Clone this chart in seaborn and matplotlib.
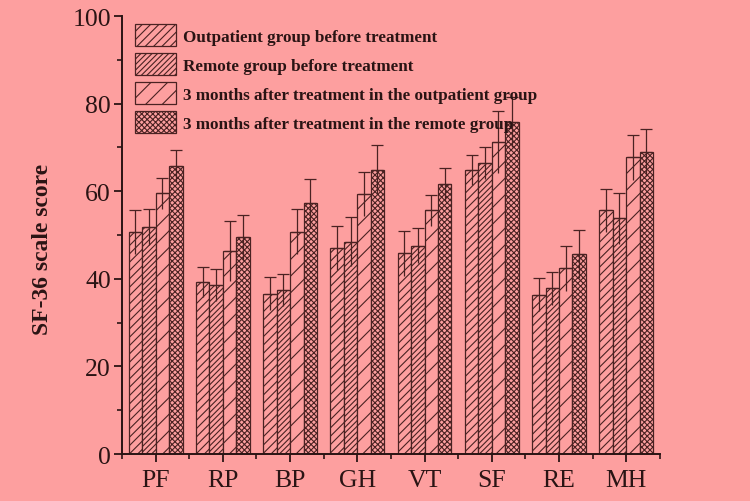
import numpy as np
import pandas as pd
import matplotlib
matplotlib.use("Agg")
import matplotlib.pyplot as plt
import seaborn as sns
from matplotlib.patches import Patch
from matplotlib.ticker import MultipleLocator, FixedLocator

# Data
dimensions = ['PF', 'RP', 'BP', 'GH', 'VT', 'SF', 'RE', 'MH']
groups = ['Outpatient group before treatment',
          'Remote group before treatment',
          '3 months after treatment in the outpatient group',
          '3 months after treatment in the remote group']

outpatient_before = [50.6, 39.3, 36.6, 47.0, 45.8, 64.9, 36.4, 55.6]
remote_before = [51.8, 38.6, 37.4, 48.5, 47.5, 66.4, 37.8, 53.8]
outpatient_after = [59.5, 46.4, 50.8, 59.4, 55.6, 71.3, 42.4, 67.7]
remote_after = [65.8, 49.5, 57.4, 64.9, 61.6, 75.8, 45.6, 68.9]

outpatient_before_sd = [5.0, 3.5, 3.8, 5.1, 5.2, 3.4, 3.8, 4.9]
remote_before_sd = [4.1, 3.6, 3.6, 5.5, 4.0, 3.6, 3.7, 5.8]
outpatient_after_sd = [3.5, 6.9, 5.1, 5.1, 3.6, 7.1, 5.2, 5.1]
remote_after_sd = [3.7, 5.1, 5.5, 5.6, 3.8, 5.6, 5.5, 5.4]

means = [outpatient_before, remote_before, outpatient_after, remote_after]
sds = [outpatient_before_sd, remote_before_sd, outpatient_after_sd, remote_after_sd]

df = pd.DataFrame({
    'dimension': dimensions * 4,
    'group': np.repeat(groups, len(dimensions)),
    'score': np.concatenate(means),
})

bg = '#fd9f9f'
edge = '#4a2222'
ink = '#2a1414'
hatches = ['////', '//////', '//', 'xxxxxx']

sns.set_theme(style="ticks")
plt.rcParams['font.family'] = ['Liberation Serif', 'DejaVu Serif']
plt.rcParams['hatch.linewidth'] = 0.8
plt.rcParams['hatch.color'] = edge

fig = plt.figure(figsize=(7.5, 5.02), dpi=100, facecolor=bg)
ax = fig.add_axes([0.1627, 0.0936, 0.717, 0.8725])
ax.set_facecolor(bg)

sns.barplot(data=df, x='dimension', y='score', hue='group', order=dimensions,
            hue_order=groups, width=0.8, ax=ax, legend=False)

for cont, h, sd in zip(ax.containers, hatches, sds):
    xs = []
    ys = []
    for bar in cont:
        bar.set_facecolor(bg)
        bar.set_edgecolor(edge)
        bar.set_linewidth(0.9)
        bar.set_hatch(h)
        xs.append(bar.get_x() + bar.get_width() / 2)
        ys.append(bar.get_height())
    sd = np.array(sd)
    # upper part with cap, lower part without cap
    ax.errorbar(xs, ys, yerr=[np.zeros_like(sd), sd], fmt='none',
                ecolor=edge, elinewidth=0.9, capsize=4, capthick=0.9)
    ax.errorbar(xs, ys, yerr=[sd, np.zeros_like(sd)], fmt='none',
                ecolor=edge, elinewidth=0.9, capsize=0)

ax.set_xlim(-0.5, 7.5)
ax.set_ylim(0, 100)
ax.yaxis.set_major_locator(MultipleLocator(20))
ax.yaxis.set_minor_locator(MultipleLocator(10))
ax.xaxis.set_minor_locator(FixedLocator(np.arange(-0.5, 8, 1)))

for s in ['top', 'right']:
    ax.spines[s].set_visible(False)
for s in ['left', 'bottom']:
    ax.spines[s].set_color(ink)
    ax.spines[s].set_linewidth(1.4)

ax.tick_params(which='major', direction='out', length=6, width=1.3,
               colors=ink, labelsize=18.5, pad=2)
ax.tick_params(which='minor', direction='out', length=3.5, width=1.2,
               colors=ink)
ax.tick_params(axis='x', which='major', pad=5)

ax.set_xlabel('')
ax.set_ylabel('SF-36 scale score', fontsize=17, fontweight='bold', color=ink)
ax.yaxis.set_label_coords(-0.128, 0.47)

handles = [Patch(facecolor=bg, edgecolor=edge, hatch=h, linewidth=0.9) for h in hatches]
leg = ax.legend(handles, groups, loc='upper left', bbox_to_anchor=(0.005, 1.005),
                frameon=False, prop={'weight': 'bold', 'size': 12.3},
                handlelength=2.4, handleheight=1.6, labelspacing=0.42,
                handletextpad=0.4, borderaxespad=0.2)
for t in leg.get_texts():
    t.set_color(ink)

fig.savefig('out.png', dpi=100, facecolor=bg)
